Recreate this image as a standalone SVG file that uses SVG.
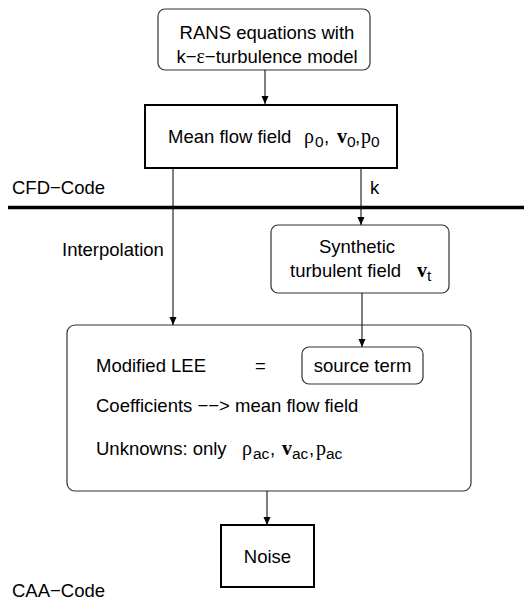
<svg xmlns="http://www.w3.org/2000/svg" width="524" height="608" viewBox="0 0 524 608">
<style>
text{font-family:"Liberation Sans",Arial,sans-serif;font-size:18.5px;fill:#000}
.c{text-anchor:middle}
.g{font-family:"Liberation Serif","Times New Roman",serif;font-size:20px}
.b{font-family:"Liberation Serif","Times New Roman",serif;font-weight:bold;font-size:20px}
.s{font-family:"Liberation Sans",Arial,sans-serif;font-size:15.5px}
.rb{fill:#fff;stroke:#333;stroke-width:1.2}
.tb{fill:#fff;stroke:#000;stroke-width:2}
.ln{stroke:#000;stroke-width:1;fill:none}
</style>
<defs>
<marker id="ah" markerWidth="8" markerHeight="11" refX="8" refY="3.5" orient="auto" markerUnits="userSpaceOnUse" viewBox="0 0 8 7">
<path d="M0,0 L8,3.5 L0,7 z" fill="#000"/>
</marker>
</defs>
<g id="divider">
<line x1="8" y1="207.5" x2="524" y2="207.5" stroke="#000" stroke-width="3.5"/>
<text x="12" y="194">CFD−Code</text>
<text x="12" y="597">CAA−Code</text>
</g>
<g id="labels">
<text x="370" y="194">k</text>
<text x="62" y="256">Interpolation</text>
</g>
<g id="rans">
<rect class="rb" x="158" y="9" width="212" height="61" rx="7"/>
<text class="c" x="267" y="39">RANS equations with</text>
<text class="c" x="267" y="63">k−<tspan class="g">ε</tspan>−turbulence model</text>
</g>
<g id="meanflow">
<rect class="tb" x="145" y="105" width="252" height="63"/>
<text x="168" y="143">Mean flow field</text>
<text><tspan class="g" x="304" y="143">ρ</tspan><tspan class="s" x="315" y="147">0</tspan><tspan x="324" y="143">,</tspan><tspan class="b" x="337" y="143">v</tspan><tspan class="s" x="347" y="147">0</tspan><tspan x="355" y="143">,</tspan><tspan class="g" x="361" y="143">p</tspan><tspan class="s" x="371" y="147">0</tspan></text>
</g>
<g id="synthetic">
<rect class="rb" x="271" y="225" width="178" height="68" rx="7"/>
<text class="c" x="357" y="253">Synthetic</text>
<text x="290" y="277">turbulent field</text>
<text><tspan class="b" x="417" y="277">v</tspan><tspan class="s" x="427" y="281">t</tspan></text>
</g>
<g id="lee">
<rect class="rb" x="67" y="325" width="404" height="166" rx="8"/>
<text x="96" y="372">Modified LEE</text>
<text x="255" y="372">=</text>
<text x="96" y="412">Coefficients −−&gt; mean flow field</text>
<text x="96" y="455">Unknowns: only</text>
<text><tspan class="g" x="242" y="455">ρ</tspan><tspan class="s" x="253" y="459">ac</tspan><tspan x="270" y="455">,</tspan><tspan class="b" x="282" y="455">v</tspan><tspan class="s" x="292" y="459">ac</tspan><tspan x="309" y="455">,</tspan><tspan class="g" x="316" y="455">p</tspan><tspan class="s" x="326" y="459">ac</tspan></text>
</g>
<g id="source">
<rect class="rb" x="302" y="347" width="121" height="37" rx="7"/>
<text class="c" x="362.5" y="372">source term</text>
</g>
<g id="noise">
<rect class="tb" x="221" y="525" width="93" height="62"/>
<text class="c" x="267.5" y="563">Noise</text>
</g>
<g id="connectors">
<line class="ln" x1="265" y1="70" x2="265" y2="104" marker-end="url(#ah)"/>
<line class="ln" x1="173" y1="169" x2="173" y2="325" marker-end="url(#ah)"/>
<line class="ln" x1="361" y1="169" x2="361" y2="225" marker-end="url(#ah)"/>
<line class="ln" x1="362" y1="293" x2="362" y2="347" marker-end="url(#ah)"/>
<line class="ln" x1="267" y1="491" x2="267" y2="525" marker-end="url(#ah)"/>
</g>
</svg>
